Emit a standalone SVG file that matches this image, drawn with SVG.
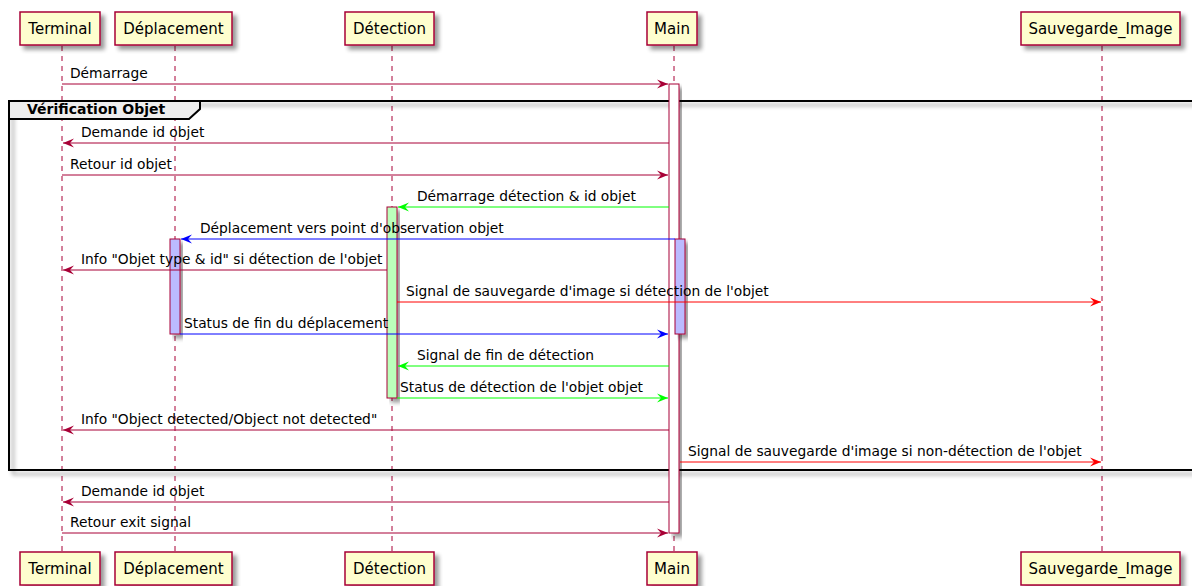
<svg xmlns="http://www.w3.org/2000/svg" width="1192" height="586" viewBox="0 0 1192 586">
  <defs>
    <filter id="shadow" x="-20%" y="-20%" width="150%" height="150%">
      <feGaussianBlur in="SourceAlpha" stdDeviation="2"/>
      <feOffset dx="4" dy="4" result="off"/>
      <feComponentTransfer><feFuncA type="linear" slope="0.4"/></feComponentTransfer>
      <feMerge><feMergeNode/><feMergeNode in="SourceGraphic"/></feMerge>
    </filter>
    <marker id="ah-c" markerUnits="userSpaceOnUse" markerWidth="13" markerHeight="11" refX="11" refY="5.5" orient="auto">
      <polygon points="0,1 11,5.5 0,10 4,5.5" fill="#A80036"/>
    </marker>
    <marker id="ah-g" markerUnits="userSpaceOnUse" markerWidth="13" markerHeight="11" refX="11" refY="5.5" orient="auto">
      <polygon points="0,1 11,5.5 0,10 4,5.5" fill="#00FF00"/>
    </marker>
    <marker id="ah-b" markerUnits="userSpaceOnUse" markerWidth="13" markerHeight="11" refX="11" refY="5.5" orient="auto">
      <polygon points="0,1 11,5.5 0,10 4,5.5" fill="#0000FF"/>
    </marker>
    <marker id="ah-r" markerUnits="userSpaceOnUse" markerWidth="13" markerHeight="11" refX="11" refY="5.5" orient="auto">
      <polygon points="0,1 11,5.5 0,10 4,5.5" fill="#FF0000"/>
    </marker>
  </defs>
  <style>
    .box { fill: #FEFECE; stroke: #A80036; stroke-width: 1.5; filter: url(#shadow); }
    .pname { font-family: "DejaVu Sans", sans-serif; font-size: 15px; fill: #000; text-anchor: middle; }
    .life { stroke: #A80036; stroke-width: 1; stroke-dasharray: 5,5; fill: none; }
    .act { stroke: #A80036; stroke-width: 1; filter: url(#shadow); }
    .msg { font-family: "DejaVu Sans", sans-serif; font-size: 13.8px; fill: #000; }
    .c { stroke: #A80036; stroke-width: 1; fill: none; marker-end: url(#ah-c); }
    .g { stroke: #00FF00; stroke-width: 1; fill: none; marker-end: url(#ah-g); }
    .b { stroke: #0000FF; stroke-width: 1; fill: none; marker-end: url(#ah-b); }
    .r { stroke: #FF0000; stroke-width: 1; fill: none; marker-end: url(#ah-r); }
    .frame { fill: none; stroke: #000; stroke-width: 2; filter: url(#shadow); }
    .tab { fill: #EEEEEE; stroke: #000; stroke-width: 2; }
    .gtitle { font-family: "DejaVu Sans", sans-serif; font-size: 14px; font-weight: bold; fill: #000; }
  </style>
  <rect width="1192" height="586" fill="#FFFFFF"/>

  <!-- lifelines -->
  <g id="lifelines">
    <line class="life" x1="62" y1="46" x2="62" y2="552"/>
    <line class="life" x1="175" y1="46" x2="175" y2="552"/>
    <line class="life" x1="392" y1="46" x2="392" y2="552"/>
    <line class="life" x1="674" y1="46" x2="674" y2="552"/>
    <line class="life" x1="1102" y1="46" x2="1102" y2="552"/>
  </g>

  <!-- group frame -->
  <g id="group-verification">
    <rect class="frame" x="9" y="101" width="1200" height="369"/>
    <polygon class="tab" points="9,101 200,101 200,109 189,119 9,119"/>
    <text class="gtitle" x="27" y="114">Vérification Objet</text>
  </g>

  <!-- activation bars -->
  <g id="activations">
    <rect class="act" x="669" y="84" width="10" height="449" fill="#FFFFFF"/>
    <rect class="act" x="387" y="207" width="10" height="191" fill="#BBFFBB"/>
    <rect class="act" x="170" y="239" width="10" height="95" fill="#BBBBFF"/>
    <rect class="act" x="675" y="239" width="10" height="95" fill="#BBBBFF"/>
  </g>

  <!-- participants -->
  <g id="terminal">
    <rect class="box" x="20" y="12" width="80" height="33"/>
    <text class="pname" x="60" y="34">Terminal</text>
    <rect class="box" x="20" y="552" width="80" height="33"/>
    <text class="pname" x="60" y="574">Terminal</text>
  </g>
  <g id="deplacement">
    <rect class="box" x="115" y="12" width="117" height="33"/>
    <text class="pname" x="173.5" y="34">Déplacement</text>
    <rect class="box" x="115" y="552" width="117" height="33"/>
    <text class="pname" x="173.5" y="574">Déplacement</text>
  </g>
  <g id="detection">
    <rect class="box" x="345" y="12" width="89" height="33"/>
    <text class="pname" x="389.5" y="34">Détection</text>
    <rect class="box" x="345" y="552" width="89" height="33"/>
    <text class="pname" x="389.5" y="574">Détection</text>
  </g>
  <g id="main">
    <rect class="box" x="647" y="12" width="50" height="33"/>
    <text class="pname" x="672" y="34">Main</text>
    <rect class="box" x="647" y="552" width="50" height="33"/>
    <text class="pname" x="672" y="574">Main</text>
  </g>
  <g id="sauvegarde-image">
    <rect class="box" x="1021" y="12" width="159" height="33"/>
    <text class="pname" x="1100.5" y="34">Sauvegarde_Image</text>
    <rect class="box" x="1021" y="552" width="159" height="33"/>
    <text class="pname" x="1100.5" y="574">Sauvegarde_Image</text>
  </g>

  <!-- messages -->
  <g id="connectors">
    <line class="c" x1="62" y1="84" x2="668" y2="84"/>
    <text class="msg" x="70" y="78">Démarrage</text>

    <line class="c" x1="669" y1="143" x2="63" y2="143"/>
    <text class="msg" x="81" y="137">Demande id objet</text>

    <line class="c" x1="62" y1="175" x2="668" y2="175"/>
    <text class="msg" x="70" y="169">Retour id objet</text>

    <line class="g" x1="669" y1="207" x2="398" y2="207"/>
    <text class="msg" x="417" y="201">Démarrage détection &amp; id objet</text>

    <line class="b" x1="675" y1="239" x2="181" y2="239"/>
    <text class="msg" x="200" y="233">Déplacement vers point d'observation objet</text>

    <line class="c" x1="387" y1="270" x2="63" y2="270"/>
    <text class="msg" x="81" y="264">Info "Objet type &amp; id" si détection de l'objet</text>

    <line class="r" x1="397" y1="302" x2="1101" y2="302"/>
    <text class="msg" x="406" y="296">Signal de sauvegarde d'image si détection de l'objet</text>

    <line class="b" x1="180" y1="334" x2="668" y2="334"/>
    <text class="msg" x="184" y="328">Status de fin du déplacement</text>

    <line class="g" x1="669" y1="366" x2="398" y2="366"/>
    <text class="msg" x="417" y="360">Signal de fin de détection</text>

    <line class="g" x1="397" y1="398" x2="668" y2="398"/>
    <text class="msg" x="400" y="392">Status de détection de l'objet objet</text>

    <line class="c" x1="669" y1="430" x2="63" y2="430"/>
    <text class="msg" x="81" y="424">Info "Object detected/Object not detected"</text>

    <line class="r" x1="680" y1="462" x2="1101" y2="462"/>
    <text class="msg" x="688" y="456">Signal de sauvegarde d'image si non-détection de l'objet</text>

    <line class="c" x1="669" y1="502" x2="63" y2="502"/>
    <text class="msg" x="81" y="496">Demande id objet</text>

    <line class="c" x1="62" y1="533" x2="668" y2="533"/>
    <text class="msg" x="70" y="527">Retour exit signal</text>
  </g>
</svg>
